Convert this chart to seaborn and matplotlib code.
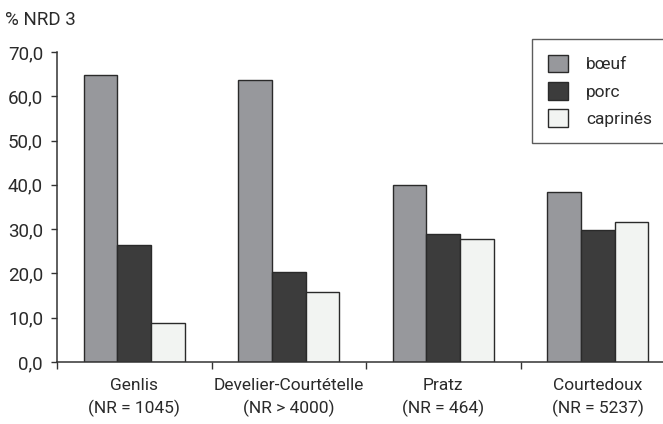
import matplotlib
matplotlib.use("Agg")
import matplotlib.pyplot as plt
import seaborn as sns
import pandas as pd

sites = ["Genlis", "Develier-Courtételle", "Pratz", "Courtedoux"]
site_labels = ["Genlis\n(NR = 1045)", "Develier-Courtételle\n(NR > 4000)",
               "Pratz\n(NR = 464)", "Courtedoux\n(NR = 5237)"]
species = ["bœuf", "porc", "caprinés"]
boeuf = [64.7, 63.6, 40.0, 38.4]
porc = [26.5, 20.3, 28.9, 29.8]
caprines = [8.9, 15.8, 27.7, 31.6]
yticks = [0, 10, 20, 30, 40, 50, 60, 70]
ytick_labels = ["0,0", "10,0", "20,0", "30,0", "40,0", "50,0", "60,0", "70,0"]
ylabel = "% NRD 3"

colors = ["#97989c", "#3c3c3c", "#f2f4f2"]

rows = []
for s, b, p, c in zip(sites, boeuf, porc, caprines):
    rows.append((s, "bœuf", b))
    rows.append((s, "porc", p))
    rows.append((s, "caprinés", c))
df = pd.DataFrame(rows, columns=["site", "espece", "val"])

sns.set_style("white")
plt.rcParams["font.family"] = ["Roboto", "DejaVu Sans"]
text_color = "#2a2a2a"
FS_Y = 13.5
FS_X = 12.5
FS_L = 12.5

fig = plt.figure(figsize=(6.63, 4.24), dpi=100)
W, H = 663, 424
ax = fig.add_axes([57 / W, (H - 362) / H, 618 / W, 310 / H])

sns.barplot(data=df, x="site", y="val", hue="espece", order=sites,
            hue_order=species, palette=colors, width=0.654, gap=0,
            edgecolor="#2a2a2a", linewidth=1.0, saturation=1, ax=ax,
            legend=True)

ax.set_xlim(-0.5, 3.5)
ax.set_ylim(0, 70)
ax.set_xlabel("")
ax.set_ylabel("")

for sp in ["top", "right"]:
    ax.spines[sp].set_visible(False)
for sp in ["left", "bottom"]:
    ax.spines[sp].set_color("#333333")
    ax.spines[sp].set_linewidth(1.1)

ax.set_yticks(yticks)
ax.set_yticklabels(ytick_labels)
ax.tick_params(axis="y", direction="out", length=4, width=1.0, color="#333333",
               labelsize=FS_Y, labelcolor=text_color, pad=6, left=True)

ax.set_xticks([-0.5, 0.5, 1.5, 2.5, 3.5])
ax.set_xticklabels([])
ax.set_xticks([0, 1, 2, 3], minor=True)
ax.set_xticklabels(site_labels, minor=True)
ax.tick_params(axis="x", which="major", direction="out", length=5, width=1.0,
               color="#333333", bottom=True)
ax.tick_params(axis="x", which="minor", length=0, pad=11.5, labelsize=FS_X,
               labelcolor=text_color)
for t in ax.get_xticklabels(minor=True):
    t.set_linespacing(1.48)

leg = ax.get_legend()
if leg is not None:
    leg.remove()
handles, labels = ax.get_legend_handles_labels()
lg = fig.legend(handles, labels, loc="upper left",
                bbox_to_anchor=(532 / W, 1 - 39 / H, 0.25, 0.0),
                mode="expand", frameon=True, fancybox=False, fontsize=FS_L,
                handlelength=1.2, handleheight=1.2, handletextpad=1.0,
                labelspacing=0.55, borderpad=0.9, borderaxespad=0)
lg.get_frame().set_edgecolor("#333333")
lg.get_frame().set_linewidth(1.0)
for t in lg.get_texts():
    t.set_color(text_color)

fig.text(5 / W, 1 - 20 / H, ylabel, fontsize=FS_Y, color=text_color,
         ha="left", va="center")

fig.savefig("out.png", dpi=100)
